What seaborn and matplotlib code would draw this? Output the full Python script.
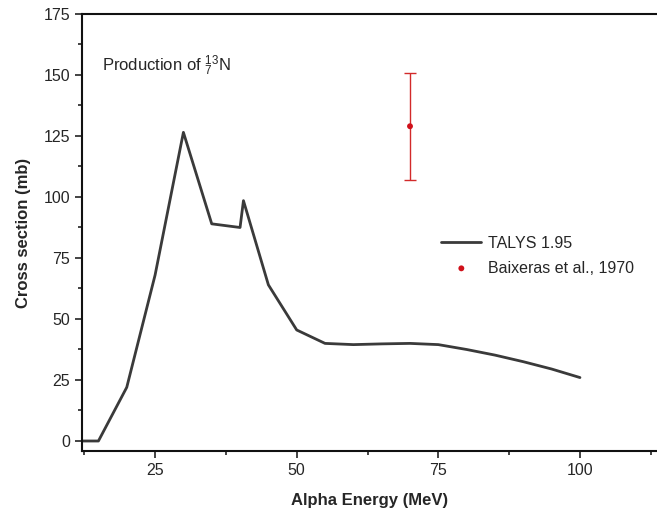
import pandas as pd
import matplotlib
matplotlib.use("Agg")
import matplotlib.pyplot as plt
from matplotlib.ticker import MultipleLocator
import seaborn as sns

# TALYS 1.95 calculation
energy = [12, 15, 20, 25, 30, 35, 40, 40.6, 45, 50, 55, 60, 65, 70, 75, 80, 85, 90, 95, 100]
xsec = [0, 0, 22, 68, 126.5, 89, 87.5, 98.5, 64, 45.5, 40, 39.5, 39.8, 40, 39.5, 37.5, 35.2, 32.5, 29.5, 26]

# experimental point
exp_energy = [70]
exp_xsec = [129]
exp_err = [22]

sns.set_theme(style="ticks")
plt.rcParams['font.family'] = ['Liberation Sans', 'DejaVu Sans']
plt.rcParams['mathtext.fontset'] = 'custom'
plt.rcParams['mathtext.rm'] = 'Liberation Sans'
plt.rcParams['mathtext.it'] = 'Liberation Sans'

fig = plt.figure(figsize=(6.57, 5.18), dpi=100)
ax = fig.add_axes([82 / 657, 67 / 518, 575 / 657, 437 / 518])

df = pd.DataFrame({'energy': energy, 'xsec': xsec})
sns.lineplot(data=df, x='energy', y='xsec', ax=ax, color='#3a3a3a', lw=2, label='TALYS 1.95')

ax.errorbar(exp_energy, exp_xsec, yerr=exp_err, fmt='none', ecolor='#d22a2a', elinewidth=1, capsize=4, capthick=1)
sns.scatterplot(x=exp_energy, y=exp_xsec, ax=ax, color='#d0101a', s=18, edgecolor='none',
                label='Baixeras et al., 1970', zorder=5)

ax.set_xlim(12.1, 113.6)
ax.set_ylim(-4.1, 175)
ax.xaxis.set_major_locator(MultipleLocator(25))
ax.xaxis.set_minor_locator(MultipleLocator(12.5))
ax.yaxis.set_major_locator(MultipleLocator(25))
ax.yaxis.set_minor_locator(MultipleLocator(12.5))
ax.tick_params(which='major', direction='out', length=5, width=1.2, labelsize=11.5, color='#222222')
ax.tick_params(which='minor', direction='out', length=3, width=1.2, color='#222222')

for s in ['left', 'bottom', 'top']:
    ax.spines[s].set_linewidth(1.5)
    ax.spines[s].set_color('#111111')
ax.spines['right'].set_visible(False)
ax.tick_params(top=False, which='both')

ax.set_xlabel('Alpha Energy (MeV)', fontsize=12, fontweight='bold', labelpad=11)
ax.set_ylabel('Cross section (mb)', fontsize=12, fontweight='bold', labelpad=9)

ax.text(0.035, 0.87, r'Production of ${}^{13}_{7}$N', transform=ax.transAxes, fontsize=12)

ax.legend(loc='upper left', bbox_to_anchor=(0.6, 0.525), frameon=False, fontsize=11.5,
          handlelength=2.5, handletextpad=0.4, labelspacing=0.6)

fig.savefig('out.png', dpi=100)
